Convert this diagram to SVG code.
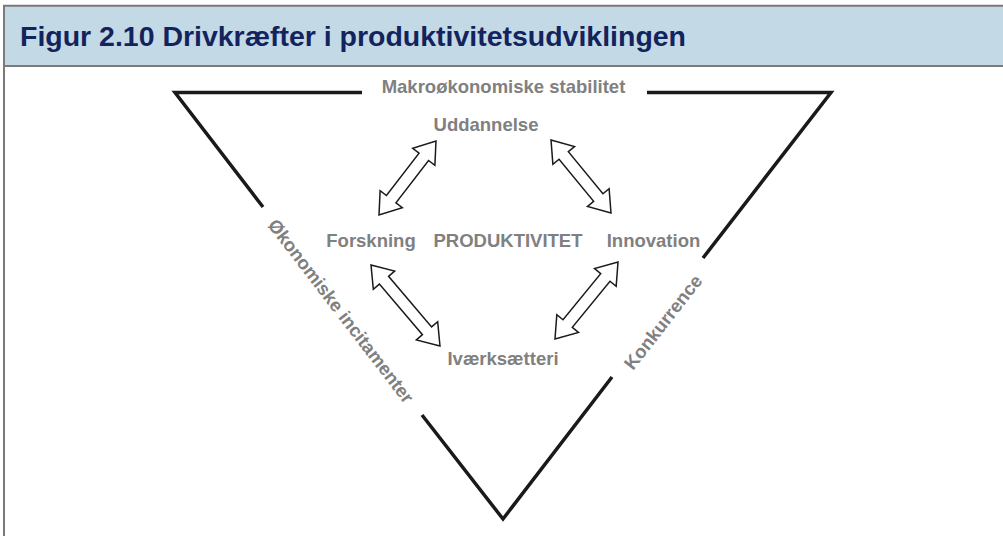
<svg xmlns="http://www.w3.org/2000/svg" width="1003" height="536" viewBox="0 0 1003 536">
  <style>
    .title { font-family: "Liberation Sans", Arial, sans-serif; font-weight: bold; font-size: 27px; fill: #13235E; }
    .lbl { font-family: "Liberation Sans", Arial, sans-serif; font-weight: bold; font-size: 18.5px; fill: #808080; text-anchor: middle; }
    .edge { fill: none; stroke: #1a1a1a; stroke-width: 3.5; stroke-linejoin: miter; }
    .arr { fill: #ffffff; stroke: #1a1a1a; stroke-width: 1.5; stroke-linejoin: miter; }
  </style>
  <rect x="0" y="0" width="1003" height="536" fill="#ffffff"/>
  <g id="header">
    <rect x="4" y="6" width="999" height="60" fill="#C3DAE6"/>
    <line x1="3" y1="5.8" x2="1003" y2="5.8" stroke="#7a7a7a" stroke-width="2"/>
    <line x1="3" y1="66" x2="1003" y2="66" stroke="#7a7a7a" stroke-width="2"/>
    <line x1="4" y1="5" x2="4" y2="536" stroke="#7a7a7a" stroke-width="2"/>
    <text class="title" x="20" y="46" textLength="666" lengthAdjust="spacingAndGlyphs">Figur 2.10 Drivkræfter i produktivitetsudviklingen</text>
  </g>
  <g id="connectors">
    <path class="edge" d="M362 92.5 L175 92.5 L263 207"/>
    <path class="edge" d="M422 415 L503 519 L612 377"/>
    <path class="edge" d="M703 258 L831 92.5 L647 92.5"/>
    <polygon class="arr" transform="translate(407.5,178) rotate(-52.4)" points="-46.7,0 -26.7,-14 -26.7,-6 26.7,-6 26.7,-14 46.7,0 26.7,14 26.7,6 -26.7,6 -26.7,14"/>
    <polygon class="arr" transform="translate(581,176.5) rotate(50.6)" points="-47.25,0 -27.25,-14 -27.25,-6 27.25,-6 27.25,-14 47.25,0 27.25,14 27.25,6 -27.25,6 -27.25,14"/>
    <polygon class="arr" transform="translate(405.5,305.5) rotate(49.6)" points="-53.2,0 -33.2,-14 -33.2,-6 33.2,-6 33.2,-14 53.2,0 33.2,14 33.2,6 -33.2,6 -33.2,14"/>
    <polygon class="arr" transform="translate(586.5,300.5) rotate(-50.7)" points="-49.75,0 -29.75,-14 -29.75,-6 29.75,-6 29.75,-14 49.75,0 29.75,14 29.75,6 -29.75,6 -29.75,14"/>
  </g>
  <g id="makro"><text class="lbl" x="503.5" y="93">Makroøkonomiske stabilitet</text></g>
  <g id="uddannelse"><text class="lbl" x="486" y="131">Uddannelse</text></g>
  <g id="forskning"><text class="lbl" x="371" y="247">Forskning</text></g>
  <g id="produktivitet"><text class="lbl" x="508" y="247">PRODUKTIVITET</text></g>
  <g id="innovation"><text class="lbl" x="653.5" y="247">Innovation</text></g>
  <g id="ivaerksaetteri"><text class="lbl" x="503" y="365">Iværksætteri</text></g>
  <g id="oekonomiske"><text class="lbl" transform="translate(341,311) rotate(52.5)" x="0" y="6.5">Økonomiske incitamenter</text></g>
  <g id="konkurrence"><text class="lbl" transform="translate(663,322) rotate(-52)" x="0" y="6.5">Konkurrence</text></g>
</svg>
